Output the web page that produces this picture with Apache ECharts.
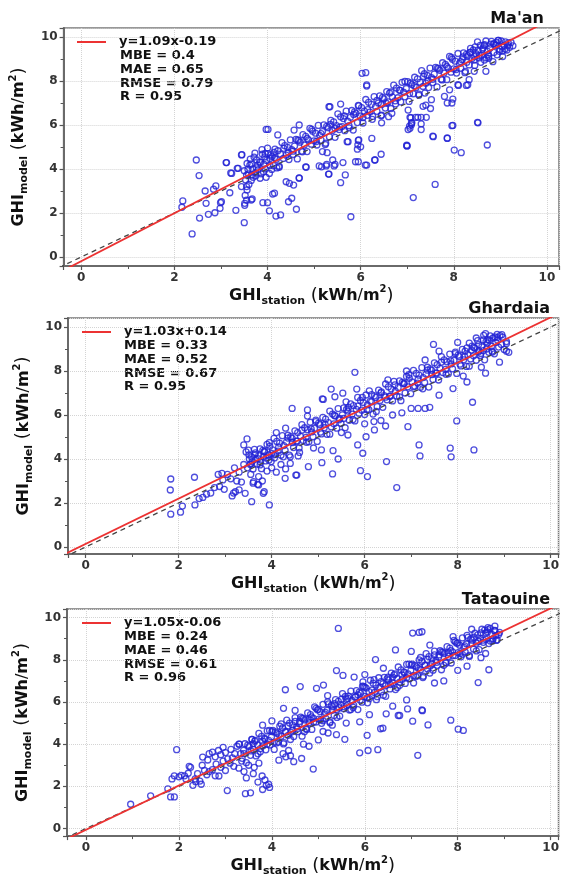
<!DOCTYPE html>
<html>
<head>
<meta charset="utf-8">
<script src="https://cdn.jsdelivr.net/npm/echarts@6/dist/echarts.min.js"></script>
<style>
html,body{margin:0;padding:0;background:#fff;}
#chart{width:562px;height:878px;}
</style>
</head>
<body>
<div id="chart"></div>
<script>
// ---------- DATA ----------
const stations = ["Ma'an", "Ghardaia", "Tataouine"];
const fitLabels = ["y=1.09x-0.19", "y=1.03x+0.14", "y=1.05x-0.06"];
const statLabels = [
  "MBE = 0.4\nMAE = 0.65\nRMSE = 0.79\nR = 0.95",
  "MBE = 0.33\nMAE = 0.52\nRMSE = 0.67\nR = 0.95",
  "MBE = 0.24\nMAE = 0.46\nRMSE = 0.61\nR = 0.96"
];
// regression lines (endpoints) and 1:1 line
const maanFit = [[-1, -1.28], [11, 11.80]];
const ghardaiaFit = [[-1, -0.89], [11, 11.47]];
const tataouineFit = [[-1, -1.11], [11, 11.49]];
const oneToOne = [[-1, -1], [11, 11]];

const maanBand = [[3.50,3.92],[3.53,3.50],[3.56,4.25],[3.59,3.78],[3.62,4.18],[3.65,3.48],[3.68,4.01],[3.71,4.54],[3.74,3.83],[3.77,4.41],[3.80,3.97],[3.83,4.32],[3.86,3.78],[3.89,4.67],[3.92,4.22],[3.95,4.01],[3.98,4.39],[4.01,4.70],[4.04,3.80],[4.07,4.64],[4.10,4.57],[4.13,4.15],[4.16,4.90],[4.19,4.44],[4.22,4.83],[4.25,4.13],[4.28,4.67],[4.31,5.20],[4.34,4.48],[4.37,5.06],[4.40,4.63],[4.43,4.98],[4.46,4.43],[4.49,5.32],[4.52,4.88],[4.55,4.66],[4.58,5.04],[4.61,5.35],[4.64,4.46],[4.67,5.29],[4.70,5.22],[4.73,4.81],[4.76,5.56],[4.79,5.09],[4.82,5.48],[4.85,4.79],[4.88,5.32],[4.91,5.85],[4.94,5.13],[4.97,5.72],[5.00,5.28],[5.03,5.63],[5.06,5.09],[5.09,5.98],[5.12,5.53],[5.15,5.31],[5.18,5.70],[5.21,6.01],[5.24,5.11],[5.27,5.94],[5.30,5.88],[5.33,5.46],[5.36,6.21],[5.39,5.75],[5.42,6.14],[5.45,5.44],[5.48,5.97],[5.51,6.51],[5.54,5.79],[5.57,6.37],[5.60,5.93],[5.63,6.29],[5.66,5.74],[5.69,6.63],[5.72,6.18],[5.75,5.97],[5.78,6.35],[5.81,6.66],[5.84,5.77],[5.87,6.60],[5.90,6.53],[5.93,6.11],[5.96,6.87],[5.99,6.40],[6.02,6.79],[6.05,6.09],[6.08,6.63],[6.11,7.16],[6.14,6.44],[6.17,7.03],[6.20,6.59],[6.23,6.94],[6.26,6.39],[6.29,7.29],[6.32,6.84],[6.35,6.62],[6.38,7.00],[6.41,7.32],[6.44,6.42],[6.47,7.25],[6.50,7.19],[6.53,6.77],[6.56,7.52],[6.59,7.05],[6.62,7.45],[6.65,6.75],[6.68,7.28],[6.71,7.81],[6.74,7.10],[6.77,7.68],[6.80,7.24],[6.83,7.59],[6.86,7.05],[6.89,7.94],[6.92,7.49],[6.95,7.28],[6.98,7.66],[7.01,7.97],[7.04,7.07],[7.07,7.91],[7.10,7.84],[7.13,7.42],[7.16,8.17],[7.19,7.71],[7.22,8.10],[7.25,7.40],[7.28,7.94],[7.31,8.47],[7.34,7.75],[7.37,8.33],[7.40,7.90],[7.43,8.25],[7.46,7.70],[7.49,8.59],[7.52,8.15],[7.55,7.93],[7.58,8.31],[7.61,8.62],[7.64,7.73],[7.67,8.56],[7.70,8.49],[7.73,8.08],[7.76,8.83],[7.79,8.36],[7.82,8.75],[7.85,8.06],[7.88,8.59],[7.91,9.12],[7.94,8.40],[7.97,8.99],[8.00,8.55],[8.03,8.90],[8.06,8.36],[8.09,9.25],[8.12,8.80],[8.15,8.58],[8.18,8.97],[8.21,9.28],[8.24,8.38],[8.27,9.21],[8.30,9.15],[8.33,8.73],[8.36,9.48],[8.39,9.02],[8.42,9.41],[8.45,8.71],[8.48,9.24],[8.51,9.78],[8.54,9.05],[8.57,9.62],[8.60,9.17],[8.63,9.51],[8.66,8.95],[8.69,9.82],[8.72,9.36],[8.75,9.13],[8.78,9.50],[8.81,9.80],[8.84,8.88],[8.87,9.70],[8.90,9.62],[8.93,9.19],[8.96,9.85],[8.99,9.44],[9.02,9.82],[9.05,9.11],[9.08,9.63],[9.11,9.78],[9.14,9.41],[9.17,9.73],[9.20,9.53],[9.23,9.75],[9.27,9.60],
[3.63,4.45],[3.69,3.62],[3.73,4.72],[3.79,4.18],[3.84,3.58],[3.88,4.88],[3.94,4.55],[3.97,3.62],[4.00,4.95],[4.05,4.48],[4.09,3.98],[4.14,4.75],[4.20,4.05],[3.58,3.98],[3.66,3.72],[3.76,4.05],[3.91,3.88],
[8.35,9.30],[8.44,8.95],[8.52,9.40],[8.58,8.85],[8.66,9.65],[8.74,9.20],[8.79,9.68],[8.86,9.30],[8.92,9.75],[8.98,9.35],[9.04,9.55],[9.10,9.45],[9.16,9.62],[8.62,9.45],[8.70,9.05],[8.46,9.55],[8.28,8.85],[8.20,9.10],
[3.55,3.72],[3.65,4.23],[3.75,3.69],[3.85,4.30],[3.95,4.71],[4.05,4.16],[4.15,4.52],[4.25,4.08],[4.35,4.94],[4.45,4.75],[4.55,4.81],[4.65,5.32],[4.75,4.78],[4.85,5.39],[4.95,5.80],[5.05,5.25],[5.15,5.61],[5.25,5.17],[5.35,6.03],[5.45,5.84],[5.55,5.90],[5.65,6.41],[5.75,5.87],[5.85,6.48],[5.95,6.89],[6.05,6.34],[6.15,6.70],[6.25,6.26],[6.35,7.12],[6.45,6.93],[6.55,6.99],[6.65,7.50],[6.75,6.96],[6.85,7.57],[6.95,7.98],[7.05,7.43],[7.15,7.79],[7.25,7.35],[7.35,8.21],[7.45,8.02],[7.55,8.08],[7.65,8.59],[7.75,8.05],[7.85,8.66],[7.95,9.07],[8.05,8.52],[8.15,8.88],[8.25,8.44],[8.35,9.30],[8.45,9.11],[8.55,9.16],[8.65,9.62],[8.75,9.03],[8.85,9.69],[8.95,9.85],[9.05,9.36]];

const maanScatter = [[2.38,1.05],[2.18,2.55],[2.16,2.26],[2.47,4.41],[2.53,3.70],[2.54,1.77],[2.66,3.00],[2.68,2.44],[2.73,1.94],[2.84,3.08],[2.89,3.23],[2.87,2.01],[2.98,2.21],[2.99,2.47],[3.11,4.29],[3.19,2.92],[3.21,3.82],[3.32,2.12],[3.35,4.03],[3.45,4.65],[3.50,1.56],[3.51,2.35],[3.55,2.58],[3.67,2.64],[3.52,2.80],[3.56,3.05],[3.60,3.30],[3.44,3.20],[3.90,2.47],[4.00,2.47],[4.04,2.10],[4.15,2.90],[4.18,1.86],[4.01,5.80],[4.22,5.55],[4.28,1.91],[4.45,2.51],[4.52,2.67],[4.62,2.17],[4.40,3.42],[4.47,3.35],[4.56,3.27],[4.68,3.60],[4.83,4.08],[5.16,4.10],[5.27,4.21],[5.40,4.41],[5.45,4.21],[5.62,4.29],[5.31,3.77],[5.57,3.38],[5.67,3.73],[5.79,1.83],[5.89,4.33],[5.95,4.33],[6.13,4.18],[6.31,4.41],[6.44,4.67],[5.93,4.90],[5.94,5.10],[5.95,5.30],[5.73,5.24],[6.13,7.77],[6.11,8.38],[5.34,6.83],[5.57,6.95],[7.00,5.05],[7.13,2.70],[7.56,5.47],[7.60,3.30],[7.86,5.39],[7.96,5.97],[8.01,4.86],[8.16,4.74],[8.52,6.10],[8.72,5.09],[7.05,5.95],[7.10,6.10],[7.30,6.05],[7.06,6.35],[7.18,6.35],[7.30,6.35],[7.50,6.75],[7.40,6.90],[7.86,7.00],[7.96,7.00],[8.27,7.80],[8.10,7.80],[3.44,4.64],[3.12,4.29],[3.23,3.80],[3.37,4.03],[3.55,3.20],[3.01,2.51],[3.51,2.44],[3.65,2.59],[4.11,2.86],[4.68,3.58],[4.82,4.10],[5.11,4.14],[5.26,4.14],[5.43,4.14],[5.32,3.77],[6.10,4.18],[6.30,4.41],[5.71,5.24],[5.96,5.32],[6.00,5.01],[6.24,5.39],[7.06,5.85],[7.09,6.08],[7.08,6.33],[7.02,6.68],[6.99,5.05],[6.45,6.45],[6.60,6.38],[6.67,6.53],[6.45,6.10],[5.18,4.79],[5.28,4.74],[7.52,7.15],[7.34,6.85],[7.38,7.45],[7.80,7.30],[7.98,7.18],[7.91,7.60],[8.09,7.83],[8.30,7.83],[8.33,8.06],[7.23,6.35],[7.41,6.35],[7.09,6.01],[7.02,5.79],[7.30,5.79],[7.98,5.98],[8.51,6.12],[7.55,5.49],[7.86,5.41],[6.99,5.08],[8.44,8.44],[8.69,8.44],[4.68,6.00],[4.57,5.77],[6.03,8.35],[6.13,7.82],[5.32,6.83],[3.97,5.80]];

const ghardaiaBand = [[3.45,4.32],[3.48,3.60],[3.51,4.19],[3.54,3.75],[3.57,4.10],[3.60,3.55],[3.63,4.44],[3.66,3.99],[3.69,3.77],[3.72,4.15],[3.75,4.46],[3.78,3.56],[3.81,4.39],[3.84,4.33],[3.87,3.91],[3.90,4.66],[3.93,4.19],[3.96,4.58],[3.99,3.88],[4.02,4.41],[4.05,4.94],[4.08,4.22],[4.11,4.80],[4.14,4.36],[4.17,4.72],[4.20,4.17],[4.23,5.06],[4.26,4.61],[4.29,4.39],[4.32,4.77],[4.35,5.08],[4.38,4.18],[4.41,5.01],[4.44,4.94],[4.47,4.52],[4.50,5.28],[4.53,4.81],[4.56,5.20],[4.59,4.50],[4.62,5.03],[4.65,5.56],[4.68,4.84],[4.71,5.42],[4.74,4.98],[4.77,5.33],[4.80,4.78],[4.83,5.67],[4.86,5.23],[4.89,5.01],[4.92,5.39],[4.95,5.70],[4.98,4.80],[5.01,5.63],[5.04,5.56],[5.07,5.14],[5.10,5.89],[5.13,5.42],[5.16,5.81],[5.19,5.12],[5.22,5.65],[5.25,6.18],[5.28,5.46],[5.31,6.04],[5.34,5.60],[5.37,5.95],[5.40,5.40],[5.43,6.29],[5.46,5.84],[5.49,5.62],[5.52,6.01],[5.55,6.32],[5.58,5.42],[5.61,6.25],[5.64,6.18],[5.67,5.76],[5.70,6.51],[5.73,6.04],[5.76,6.43],[5.79,5.73],[5.82,6.26],[5.85,6.80],[5.88,6.08],[5.91,6.66],[5.94,6.22],[5.97,6.57],[6.00,6.02],[6.03,6.91],[6.06,6.46],[6.09,6.24],[6.12,6.62],[6.15,6.93],[6.18,6.04],[6.21,6.87],[6.24,6.80],[6.27,6.38],[6.30,7.13],[6.33,6.66],[6.36,7.05],[6.39,6.35],[6.42,6.88],[6.45,7.41],[6.48,6.69],[6.51,7.28],[6.54,6.84],[6.57,7.19],[6.60,6.64],[6.63,7.53],[6.66,7.08],[6.69,6.86],[6.72,7.24],[6.75,7.55],[6.78,6.65],[6.81,7.48],[6.84,7.42],[6.87,7.00],[6.90,7.75],[6.93,7.28],[6.96,7.67],[6.99,6.97],[7.02,7.50],[7.05,8.03],[7.08,7.31],[7.11,7.89],[7.14,7.45],[7.17,7.81],[7.20,7.26],[7.23,8.15],[7.26,7.70],[7.29,7.48],[7.32,7.86],[7.35,8.17],[7.38,7.27],[7.41,8.10],[7.44,8.03],[7.47,7.61],[7.50,8.37],[7.53,7.90],[7.56,8.29],[7.59,7.59],[7.62,8.12],[7.65,8.65],[7.68,7.93],[7.71,8.51],[7.74,8.07],[7.77,8.42],[7.80,7.87],[7.83,8.77],[7.86,8.32],[7.89,8.10],[7.92,8.48],[7.95,8.79],[7.98,7.89],[8.01,8.72],[8.04,8.65],[8.07,8.23],[8.10,8.98],[8.13,8.51],[8.16,8.90],[8.19,8.21],[8.22,8.74],[8.25,9.27],[8.28,8.55],[8.31,9.13],[8.34,8.69],[8.37,9.04],[8.40,8.49],[8.43,9.38],[8.46,8.93],[8.49,8.71],[8.52,9.10],[8.55,9.41],[8.58,8.51],[8.61,9.34],[8.64,9.27],[8.67,8.85],[8.70,9.60],[8.73,9.12],[8.76,9.50],[8.79,8.78],[8.82,9.30],[8.85,9.67],[8.88,9.09],[8.91,9.61],[8.94,9.20],[8.97,9.54],[9.00,8.98],[9.05,9.25],[9.10,8.85],
[3.52,4.00],[3.58,3.88],[3.64,4.20],[3.70,4.02],[3.76,3.85],[3.82,4.10],[3.88,4.05],[3.94,3.95],[4.00,4.25],[4.06,4.05],
[8.45,9.20],[8.50,8.80],[8.56,9.62],[8.62,9.00],[8.68,9.40],[8.74,8.90],[8.80,9.55],[8.86,9.40],[8.30,8.95],[8.20,9.05],[8.60,9.70],[8.40,9.50],
[3.55,3.78],[3.65,4.28],[3.75,3.73],[3.85,4.34],[3.95,4.74],[4.05,4.19],[4.15,4.54],[4.25,4.10],[4.35,4.95],[4.45,4.75],[4.55,4.81],[4.65,5.31],[4.75,4.76],[4.85,5.37],[4.95,5.77],[5.05,5.22],[5.15,5.57],[5.25,5.13],[5.35,5.98],[5.45,5.78],[5.55,5.84],[5.65,6.34],[5.75,5.79],[5.85,6.40],[5.95,6.80],[6.05,6.25],[6.15,6.60],[6.25,6.16],[6.35,7.01],[6.45,6.81],[6.55,6.87],[6.65,7.37],[6.75,6.82],[6.85,7.43],[6.95,7.83],[7.05,7.28],[7.15,7.63],[7.25,7.19],[7.35,8.04],[7.45,7.84],[7.55,7.90],[7.65,8.40],[7.75,7.85],[7.85,8.46],[7.95,8.86],[8.05,8.31],[8.15,8.66],[8.25,8.22],[8.35,9.07],[8.45,8.87],[8.55,8.93],[8.65,9.43],[8.75,8.86],[8.85,9.52],[8.95,9.65],[9.05,9.34]];

const ghardaiaScatter = [[1.83,3.09],[1.82,2.59],[1.83,1.49],[2.04,1.58],[2.08,1.86],[2.34,3.17],[2.35,1.91],[2.44,2.20],[2.52,2.25],[2.60,2.40],[2.69,2.45],[2.77,2.70],[2.88,2.75],[2.85,3.30],[2.93,3.35],[2.98,2.62],[3.15,2.32],[3.18,2.45],[3.05,3.30],[3.12,3.10],[3.20,3.60],[3.25,3.00],[3.30,2.60],[3.35,2.95],[3.40,4.64],[3.47,4.91],[3.50,4.40],[3.57,2.06],[3.60,2.90],[3.70,2.85],[3.80,3.00],[3.72,3.20],[3.84,2.51],[3.95,1.91],[3.61,2.97],[3.72,2.82],[3.82,2.44],[3.22,2.51],[3.43,2.44],[4.29,3.12],[4.52,3.27],[4.44,6.30],[4.77,6.23],[4.77,5.95],[5.09,6.73],[5.28,7.18],[5.11,6.71],[5.36,6.83],[5.53,6.99],[5.08,3.83],[5.31,3.32],[5.43,4.00],[5.91,3.47],[6.06,3.20],[5.96,4.26],[5.79,7.94],[6.69,2.70],[6.47,3.88],[6.93,5.47],[7.17,4.64],[7.19,4.14],[7.48,9.21],[7.84,4.49],[7.86,4.10],[7.98,5.73],[8.35,4.41],[8.32,6.58],[8.12,7.77],[8.51,8.17],[4.57,4.14],[4.79,3.65],[4.54,3.27],[4.40,4.10],[5.07,4.41],[5.32,4.38],[6.21,5.32],[6.03,5.01],[5.85,4.64],[5.64,5.09],[6.00,5.60],[6.20,5.70],[6.35,5.75],[6.45,5.50],[7.00,6.30],[7.15,6.30],[7.30,6.30],[7.40,6.35],[3.90,3.45],[4.00,3.60],[4.10,3.40],[4.20,3.75],[4.30,3.55],[4.40,3.80],[4.60,4.30],[4.90,4.50],[5.50,5.20],[6.60,6.00],[6.80,6.10],[7.60,6.90],[7.90,7.20],[8.20,7.50],[8.60,7.90],[8.90,8.40],[9.05,8.90],[4.10,5.20],[4.30,5.40],[5.60,6.60],[6.10,7.10],[6.50,7.60],[6.90,8.00],[7.30,8.50],[7.60,8.90],[8.00,9.30],[5.83,7.18],[3.30,3.40],[3.40,3.75],[2.95,3.05],[3.55,3.30]];

const tataouineBand = [[3.30,4.00],[3.33,3.55],[3.36,3.33],[3.39,3.71],[3.42,4.02],[3.45,3.12],[3.48,3.95],[3.51,3.89],[3.54,3.47],[3.57,4.22],[3.60,3.75],[3.63,4.14],[3.66,3.44],[3.69,3.97],[3.72,4.51],[3.75,3.79],[3.78,4.37],[3.81,3.93],[3.84,4.28],[3.87,3.73],[3.90,4.63],[3.93,4.18],[3.96,3.96],[3.99,4.34],[4.02,4.65],[4.05,3.75],[4.08,4.58],[4.11,4.52],[4.14,4.10],[4.17,4.85],[4.20,4.38],[4.23,4.77],[4.26,4.07],[4.29,4.60],[4.32,5.14],[4.35,4.42],[4.38,5.00],[4.41,4.56],[4.44,4.91],[4.47,4.36],[4.50,5.26],[4.53,4.81],[4.56,4.59],[4.59,4.97],[4.62,5.28],[4.65,4.38],[4.68,5.21],[4.71,5.15],[4.74,4.73],[4.77,5.48],[4.80,5.01],[4.83,5.40],[4.86,4.70],[4.89,5.23],[4.92,5.77],[4.95,5.05],[4.98,5.63],[5.01,5.19],[5.04,5.54],[5.07,4.99],[5.10,5.89],[5.13,5.44],[5.16,5.22],[5.19,5.60],[5.22,5.91],[5.25,5.01],[5.28,5.84],[5.31,5.78],[5.34,5.36],[5.37,6.11],[5.40,5.64],[5.43,6.03],[5.46,5.33],[5.49,5.86],[5.52,6.40],[5.55,5.68],[5.58,6.26],[5.61,5.82],[5.64,6.17],[5.67,5.62],[5.70,6.52],[5.73,6.07],[5.76,5.85],[5.79,6.23],[5.82,6.54],[5.85,5.64],[5.88,6.47],[5.91,6.41],[5.94,5.99],[5.97,6.74],[6.00,6.27],[6.03,6.66],[6.06,5.96],[6.09,6.49],[6.12,7.03],[6.15,6.31],[6.18,6.89],[6.21,6.45],[6.24,6.80],[6.27,6.25],[6.30,7.15],[6.33,6.70],[6.36,6.48],[6.39,6.86],[6.42,7.17],[6.45,6.27],[6.48,7.10],[6.51,7.04],[6.54,6.62],[6.57,7.37],[6.60,6.90],[6.63,7.29],[6.66,6.59],[6.69,7.12],[6.72,7.66],[6.75,6.94],[6.78,7.52],[6.81,7.08],[6.84,7.43],[6.87,6.88],[6.90,7.78],[6.93,7.33],[6.96,7.11],[6.99,7.49],[7.02,7.80],[7.05,6.90],[7.08,7.73],[7.11,7.67],[7.14,7.25],[7.17,8.00],[7.20,7.53],[7.23,7.92],[7.26,7.22],[7.29,7.75],[7.32,8.29],[7.35,7.57],[7.38,8.15],[7.41,7.71],[7.44,8.06],[7.47,7.51],[7.50,8.41],[7.53,7.96],[7.56,7.74],[7.59,8.12],[7.62,8.43],[7.65,7.53],[7.68,8.36],[7.71,8.30],[7.74,7.88],[7.77,8.63],[7.80,8.16],[7.83,8.55],[7.86,7.85],[7.89,8.38],[7.92,8.92],[7.95,8.20],[7.98,8.78],[8.01,8.34],[8.04,8.69],[8.07,8.14],[8.10,9.04],[8.13,8.59],[8.16,8.37],[8.19,8.75],[8.22,9.06],[8.25,8.16],[8.28,8.99],[8.31,8.93],[8.34,8.51],[8.37,9.26],[8.40,8.79],[8.43,9.18],[8.46,8.48],[8.49,9.01],[8.52,9.45],[8.55,8.83],[8.58,9.41],[8.61,8.97],[8.64,9.32],[8.67,8.77],[8.70,9.49],[8.73,9.22],[8.76,9.00],[8.79,9.38],[8.82,9.15],[8.85,8.95],[8.88,9.20],
[3.55,3.68],[3.65,4.18],[3.75,3.64],[3.85,4.24],[3.95,4.65],[4.05,4.10],[4.15,4.46],[4.25,4.01],[4.35,4.87],[4.45,4.67],[4.55,4.73],[4.65,5.23],[4.75,4.69],[4.85,5.29],[4.95,5.70],[5.05,5.15],[5.15,5.51],[5.25,5.06],[5.35,5.92],[5.45,5.72],[5.55,5.78],[5.65,6.28],[5.75,5.74],[5.85,6.34],[5.95,6.75],[6.05,6.20],[6.15,6.56],[6.25,6.11],[6.35,6.97],[6.45,6.77],[6.55,6.83],[6.65,7.33],[6.75,6.79],[6.85,7.39],[6.95,7.80],[7.05,7.25],[7.15,7.61],[7.25,7.16],[7.35,8.02],[7.45,7.82],[7.55,7.88],[7.65,8.38],[7.75,7.84],[7.85,8.44],[7.95,8.85],[8.05,8.30],[8.15,8.66],[8.25,8.21],[8.35,9.07],[8.45,8.87],[8.55,8.93],[8.65,9.43],[8.75,8.89],
[3.60,4.03],[3.70,3.54],[3.80,4.14],[3.90,4.00],[4.00,4.60],[4.10,4.06],[4.20,4.96],[4.30,4.57],[4.40,4.22],[4.50,5.08],[4.60,5.08],[4.70,4.59],[4.80,5.19],[4.90,5.05],[5.00,5.65],[5.10,5.11],[5.20,6.01],[5.30,5.62],[5.40,5.27],[5.50,6.13],[5.60,6.13],[5.70,5.64],[5.80,6.24],[5.90,6.10],[6.00,6.70],[6.10,6.16],[6.20,7.06],[6.30,6.67],[6.40,6.32],[6.50,7.18],[6.60,7.18],[6.70,6.69],[6.80,7.29],[6.90,7.15],[7.00,7.75],[7.10,7.21],[7.20,8.11],[7.30,7.72],[7.40,7.37],[7.50,8.23],[7.60,8.23],[7.70,7.74],[7.80,8.34],[7.90,8.20],[8.00,8.80],[8.10,8.26],[8.20,9.16],[8.30,8.77],[8.40,8.42],[8.50,9.28],[8.60,9.28],[8.70,8.89],[8.80,9.39]];

const tataouineScatter = [[0.96,1.15],[1.39,1.55],[1.76,1.88],[1.82,1.50],[1.90,1.50],[1.95,3.74],[1.85,2.35],[1.90,2.50],[2.00,2.45],[2.05,2.52],[2.12,2.50],[2.20,2.62],[2.22,2.95],[2.15,2.35],[2.30,2.05],[2.36,2.22],[2.45,2.25],[2.48,2.10],[2.40,2.60],[2.50,3.00],[2.55,2.75],[2.60,2.55],[2.65,2.70],[2.72,2.79],[2.78,2.50],[2.86,2.49],[2.51,3.39],[2.65,3.55],[2.72,3.62],[2.78,3.40],[2.85,3.70],[2.90,3.50],[2.95,3.85],[3.00,3.60],[3.04,1.80],[3.05,3.30],[3.10,3.10],[3.12,3.75],[3.18,2.95],[3.20,3.55],[3.25,3.90],[3.29,4.00],[3.29,2.86],[3.35,3.20],[3.40,2.70],[3.43,1.65],[3.54,1.69],[3.45,2.40],[3.60,2.60],[3.70,2.20],[3.80,1.85],[3.88,2.05],[3.85,2.30],[3.95,1.95],[3.93,2.10],[3.79,2.49],[2.90,2.90],[2.95,3.20],[3.00,2.75],[2.80,3.05],[2.35,2.35],[2.25,2.90],[2.62,3.25],[3.15,3.35],[3.50,3.00],[3.62,2.90],[3.72,3.10],[3.40,3.55],[3.57,4.23],
[5.43,9.49],[7.03,9.27],[7.17,9.30],[7.23,9.33],[6.66,8.47],[6.23,8.01],[5.39,7.49],[4.25,5.70],[4.89,2.82],[4.64,3.32],[4.47,3.17],[5.89,3.59],[6.07,3.70],[6.28,3.74],[6.39,4.76],[6.34,4.73],[6.05,4.42],[6.92,5.67],[7.24,5.59],[7.03,5.09],[6.46,5.44],[6.75,5.36],[7.14,3.47],[5.89,5.06],[5.57,4.23],[5.39,4.45],[5.21,4.53],[4.68,4.00],[4.36,3.70],[4.15,3.24],[4.29,6.58],[4.61,6.73],[4.96,6.65],[5.11,6.80],[5.53,7.26],[5.77,7.18],[5.96,6.95],[8.44,6.92],[8.67,7.53],[7.85,5.14],[8.01,4.71],[8.12,4.65],[7.36,4.91],[7.23,5.62],[6.72,5.36],[4.24,3.55],[4.30,3.40],[4.40,3.45],[4.80,3.90],[5.00,4.20],[5.10,4.60],[5.30,4.90],[5.60,5.00],[6.10,5.40],[6.60,5.80],[6.90,6.10],[7.50,6.90],[7.70,7.00],[8.00,7.50],[8.20,7.70],[8.50,8.10],[8.60,8.30],[5.20,6.30],[4.50,5.60],[4.00,5.10],[3.80,4.90],[6.00,7.30],[6.40,7.60],[7.00,8.40],[7.40,8.70],[7.90,9.10],[8.30,9.45],[8.80,9.60],[8.90,9.30],[8.65,9.53],[8.83,8.92]];

// ---------- CHART ----------
const chart = echarts.init(document.getElementById('chart'), null, {renderer: 'canvas'});

const FONT = 'DejaVu Sans';
const nameRich = {
  g:   {fontFamily: FONT, fontWeight: 'bold', fontSize: 16, lineHeight: 22, color: '#111'},
  s:   {fontFamily: FONT, fontWeight: 'bold', fontSize: 11, lineHeight: 12, verticalAlign: 'bottom', color: '#111'},
  p:   {fontFamily: FONT, fontWeight: 'normal', fontSize: 18, lineHeight: 22, color: '#111'},
  u:   {fontFamily: FONT, fontWeight: 'bold', fontSize: 16, lineHeight: 22, color: '#111'},
  sl:  {fontFamily: FONT, fontWeight: 'normal', fontSize: 16, lineHeight: 22, color: '#111'},
  sup: {fontFamily: FONT, fontWeight: 'bold', fontSize: 10, lineHeight: 12, verticalAlign: 'top', color: '#111'}
};
const xName = '{g|GHI}{s|station}{p| (}{u|kWh}{sl|/}{u|m}{sup|2}{p|)}';
const yName = '{g|GHI}{s|model}{p| (}{u|kWh}{sl|/}{u|m}{sup|2}{p|)}';

function labelFmt(v) {
  const r = Math.round(v);
  return (Math.abs(v - r) < 1e-6 && r % 2 === 0) ? String(r) : '';
}

const grids = [
  {left: 62, top: 28, width: 500, height: 238},
  {left: 68, top: 318, width: 494, height: 236},
  {left: 67, top: 609, width: 495, height: 237}
];
const xRanges = [[-0.38, 10.26], [-0.38, 10.17], [-0.41, 10.17]];
const yRanges = [[-0.41, 10.41], [-0.32, 10.41], [-0.36, 10.41]];

function axisCommon() {
  return {
    type: 'value',
    axisLine: {show: true, onZero: false, lineStyle: {color: '#6a6a6a', width: 2}},
    axisTick: {show: true, length: 4, lineStyle: {color: '#555', width: 1.2}},
    minorTick: {show: true, splitNumber: 2, length: 3, lineStyle: {color: '#555', width: 1}},
    splitLine: {show: true, lineStyle: {color: '#d4d4d4', type: 'dotted', width: 1}},
    axisLabel: {formatter: labelFmt, fontFamily: FONT, fontWeight: 'bold', fontSize: 12, color: '#333', margin: 6,
                showMinLabel: false, showMaxLabel: true}
  };
}

const xAxes = grids.map((g, i) => Object.assign(axisCommon(), {
  gridIndex: i, min: xRanges[i][0], max: xRanges[i][1],
  name: xName, nameLocation: 'middle', nameGap: 13, nameTextStyle: {rich: nameRich}
}));
const yAxes = grids.map((g, i) => Object.assign(axisCommon(), {
  gridIndex: i, min: yRanges[i][0], max: yRanges[i][1],
  name: yName, nameLocation: 'middle', nameGap: 26, nameTextStyle: {rich: nameRich}
}));

const scatterData = [maanBand.concat(maanScatter), ghardaiaBand.concat(ghardaiaScatter), tataouineBand.concat(tataouineScatter)];
const fits = [maanFit, ghardaiaFit, tataouineFit];

const series = [];
for (let i = 0; i < 3; i++) {
  series.push({
    type: 'scatter', name: stations[i], xAxisIndex: i, yAxisIndex: i,
    data: scatterData[i], symbol: 'circle', symbolSize: 6, silent: true,
    itemStyle: {color: 'rgba(0,0,0,0)', borderColor: '#2222d4', borderWidth: 1.3}
  });
  series.push({
    type: 'line', name: '1:1', xAxisIndex: i, yAxisIndex: i, data: oneToOne,
    symbol: 'none', silent: true, clip: true,
    lineStyle: {color: '#444', type: [5, 4], width: 1.3}
  });
  series.push({
    type: 'line', name: fitLabels[i], xAxisIndex: i, yAxisIndex: i, data: fits[i],
    symbol: 'none', silent: true, clip: true,
    itemStyle: {color: '#ec3232'},
    lineStyle: {color: '#ec3232', width: 1.8}
  });
}

const legendPos = [{left: 77, top: 34}, {left: 82, top: 324}, {left: 82, top: 615}];
const legends = legendPos.map((p, i) => ({
  data: [fitLabels[i]], left: p.left, top: p.top, padding: 0, selectedMode: false,
  icon: 'rect', itemWidth: 29, itemHeight: 2,
  textStyle: {fontFamily: FONT, fontWeight: 'bold', fontSize: 13, color: '#111', lineHeight: 16, padding: [0, 0, 0, 8]}
}));

const statPos = [{left: 120, top: 49}, {left: 124, top: 339}, {left: 124, top: 630}];
const titlePos = [{right: 18, top: 11}, {right: 12, top: 301}, {right: 12, top: 592}];
const graphic = [];
for (let i = 0; i < 3; i++) {
  graphic.push({
    type: 'text', left: statPos[i].left, top: statPos[i].top, silent: true,
    style: {text: statLabels[i], font: 'bold 13px "DejaVu Sans"', lineHeight: 13.7, fill: '#111'}
  });
  graphic.push({
    type: 'text', right: titlePos[i].right, top: titlePos[i].top, silent: true,
    style: {text: stations[i], font: 'bold 16px "DejaVu Sans"', fill: '#111'}
  });
}

chart.setOption({
  animation: false,
  backgroundColor: '#fff',
  grid: grids.map(g => Object.assign({show: true, borderColor: '#777', borderWidth: 1.5, backgroundColor: 'transparent'}, g)),
  xAxis: xAxes,
  yAxis: yAxes,
  legend: legends,
  graphic: graphic,
  series: series
});
</script>
</body>
</html>
